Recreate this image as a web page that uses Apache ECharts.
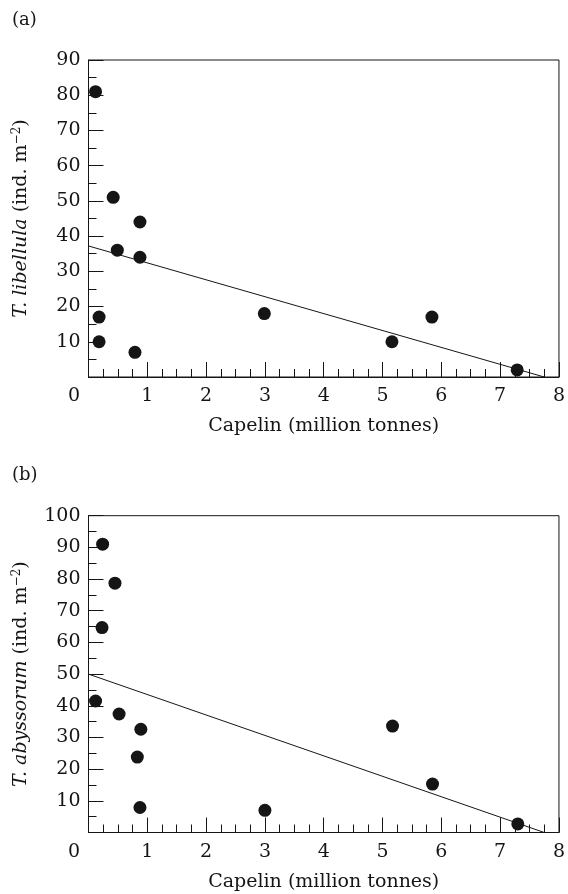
<!DOCTYPE html>
<html>
<head>
<meta charset="utf-8">
<script src="https://cdn.jsdelivr.net/npm/echarts@6/dist/echarts.min.js"></script>
<style>
  html, body { margin: 0; padding: 0; background: #fff; }
  #main { width: 568px; height: 894px; }
</style>
</head>
<body>
<div id="main"></div>
<script>
// capelin stock (million tonnes) vs. amphipod density
var pointsA = [
  [0.12, 81], [0.42, 51], [0.875, 44], [0.49, 36], [0.875, 34],
  [0.18, 17], [0.18, 10], [0.79, 7], [2.99, 18],
  [5.16, 10], [5.84, 17], [7.29, 2]
];
var lineA = [[0, 37.2], [7.75, 0]];

var pointsB = [
  [0.24, 91], [0.45, 78.7], [0.23, 64.7], [0.12, 41.5], [0.52, 37.4],
  [0.89, 32.6], [0.83, 23.8], [0.875, 7.9], [3.0, 7.0],
  [5.17, 33.6], [5.85, 15.3], [7.3, 2.7]
];
var lineB = [[0, 50], [7.75, 0]];

var xName = 'Capelin (million tonnes)';
var yNameA = '{i|T. libellula}{r| (ind. m}{sup|−2}{r|)}';
var yNameB = '{i|T. abyssorum}{r| (ind. m}{sup|−2}{r|)}';

var FONT = 'DejaVu Serif';
var INK = '#151515';

var nameRich = {
  i: { fontFamily: FONT, fontSize: 19, fontStyle: 'italic', color: INK },
  r: { fontFamily: FONT, fontSize: 19, color: INK },
  sup: { fontFamily: FONT, fontSize: 12, color: INK, verticalAlign: 'top', padding: [0, 0, 10, 0] }
};

function xAxisFor(idx) {
  return {
    gridIndex: idx,
    type: 'value',
    min: 0, max: 8, interval: 1,
    name: xName,
    nameLocation: 'middle',
    nameGap: 40,
    nameTextStyle: { fontFamily: FONT, fontSize: 19, color: INK },
    axisLine: { lineStyle: { color: INK, width: 1 } },
    axisTick: { inside: true, length: 15, lineStyle: { color: INK } },
    minorTick: { show: true, splitNumber: 4, length: 8, lineStyle: { color: INK } },
    splitLine: { show: false },
    axisLabel: {
      fontFamily: FONT, fontSize: 19, color: INK, margin: 10,
      formatter: function (v) { return v === 0 ? '{z|0}' : String(v); },
      rich: { z: { fontFamily: FONT, fontSize: 19, color: INK, padding: [0, 29, 0, 0] } }
    }
  };
}

function yAxisFor(idx, max, name) {
  return {
    gridIndex: idx,
    type: 'value',
    min: 0, max: max, interval: 10,
    name: name,
    nameLocation: 'middle',
    nameGap: 56,
    nameRotate: 90,
    nameTextStyle: { fontFamily: FONT, fontSize: 19, color: INK, rich: nameRich },
    axisLine: { show: true, lineStyle: { color: INK, width: 1 } },
    axisTick: { show: true, inside: true, length: 15, lineStyle: { color: INK } },
    minorTick: { show: true, splitNumber: 2, length: 8, lineStyle: { color: INK } },
    splitLine: { show: false },
    axisLabel: {
      fontFamily: FONT, fontSize: 19, color: INK, margin: 8,
      formatter: function (v) { return v === 0 ? '' : String(v); }
    }
  };
}

var chart = echarts.init(document.getElementById('main'));
chart.setOption({
  animation: false,
  backgroundColor: '#fff',
  title: [
    { text: '(a)', left: 12, top: 11, padding: 0,
      textStyle: { fontFamily: FONT, fontSize: 18, fontWeight: 'normal', color: INK } },
    { text: '(b)', left: 12, top: 466, padding: 0,
      textStyle: { fontFamily: FONT, fontSize: 18, fontWeight: 'normal', color: INK } }
  ],
  grid: [
    { left: 88.5, right: 8.7, top: 60, height: 317, show: true, borderColor: INK, borderWidth: 1 },
    { left: 88.5, right: 8.7, top: 515.7, height: 316.8, show: true, borderColor: INK, borderWidth: 1 }
  ],
  xAxis: [xAxisFor(0), xAxisFor(1)],
  yAxis: [yAxisFor(0, 90, yNameA), yAxisFor(1, 100, yNameB)],
  series: [
    { type: 'line', xAxisIndex: 0, yAxisIndex: 0, data: lineA, showSymbol: false,
      lineStyle: { color: INK, width: 1 }, z: 2 },
    { type: 'scatter', xAxisIndex: 0, yAxisIndex: 0, data: pointsA, symbolSize: 13,
      itemStyle: { color: INK, opacity: 1 }, z: 3 },
    { type: 'line', xAxisIndex: 1, yAxisIndex: 1, data: lineB, showSymbol: false,
      lineStyle: { color: INK, width: 1 }, z: 2 },
    { type: 'scatter', xAxisIndex: 1, yAxisIndex: 1, data: pointsB, symbolSize: 13,
      itemStyle: { color: INK, opacity: 1 }, z: 3 }
  ]
});
</script>
</body>
</html>
